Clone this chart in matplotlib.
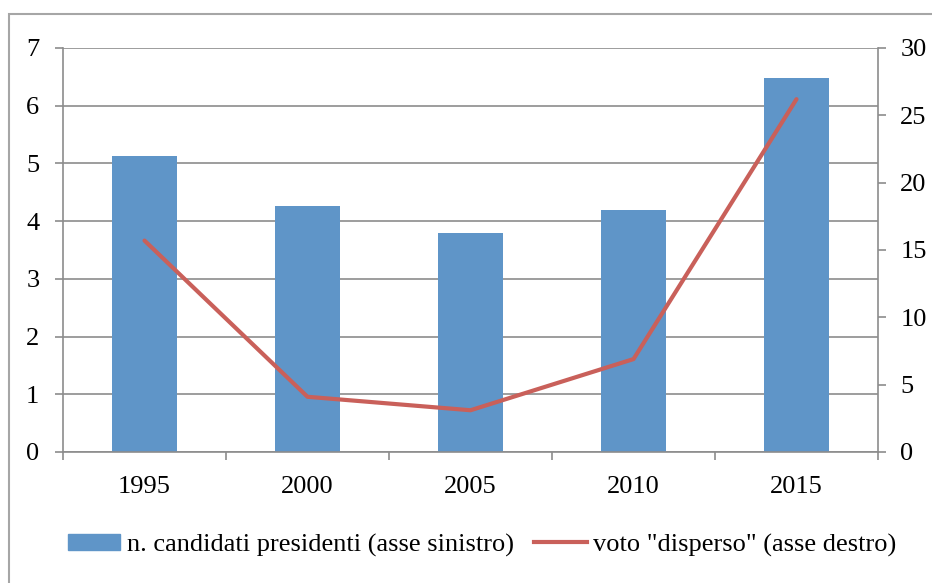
import matplotlib
matplotlib.use("Agg")
import matplotlib.pyplot as plt
from matplotlib.lines import Line2D
from matplotlib.patches import Patch, Rectangle

# dati elezioni presidenziali
anni = ["1995", "2000", "2005", "2010", "2015"]
n_candidati = [5.13, 4.26, 3.80, 4.19, 6.48]
voto_disperso = [15.7, 4.1, 3.1, 6.9, 26.2]

blu = "#5F95C8"
rosso = "#C9605A"
grigio = "#8C8C8C"

plt.rcParams["font.family"] = ["Liberation Serif", "DejaVu Serif"]

fig = plt.figure(figsize=(9.32, 5.83), dpi=100)
ax = fig.add_axes([63 / 932, 131 / 583, 815 / 932, 404 / 583])
ax2 = ax.twinx()

x = list(range(len(anni)))
ax.bar(x, n_candidati, width=0.4, color=blu, zorder=2)
ax2.plot(x, voto_disperso, color=rosso, lw=3, solid_capstyle="round", zorder=3)

ax.set_xlim(-0.5, len(anni) - 0.5)
ax.set_ylim(0, 7)
ax2.set_ylim(0, 30)
ax.set_yticks(range(0, 8))
ax2.set_yticks(range(0, 31, 5))

ax.set_xticks(x)
ax.set_xticklabels(anni)
ax.set_xticks([i - 0.5 for i in range(len(anni) + 1)], minor=True)
ax.tick_params(axis="x", which="major", length=0, pad=17, labelsize=19)
ax.tick_params(axis="x", which="minor", length=6, width=1.2, color=grigio)
ax.tick_params(axis="y", length=6, width=1.2, color=grigio, pad=11, labelsize=19)
ax2.tick_params(axis="y", length=6, width=1.2, color=grigio, pad=10, labelsize=19)

ax.grid(axis="y", color=grigio, lw=1.2, zorder=0)
ax.set_axisbelow(True)
for a in (ax, ax2):
    a.spines["top"].set_visible(False)
    for s in ("left", "right", "bottom"):
        a.spines[s].set_color(grigio)
        a.spines[s].set_linewidth(1.2)
ax2.spines["left"].set_visible(False)
ax2.spines["bottom"].set_visible(False)
ax.spines["right"].set_visible(False)

# bordo esterno del grafico
fig.patches.append(Rectangle((9 / 932, -0.1), 1.2, 1.1 - 14 / 583,
                             transform=fig.transFigure, fill=False,
                             edgecolor="#A6A6A6", lw=1.5))

handles = [Patch(color=blu, label="n. candidati presidenti (asse sinistro)"),
           Line2D([], [], color=rosso, lw=3, label='voto "disperso" (asse destro)')]
fig.legend(handles=handles, loc="center", bbox_to_anchor=(482 / 932, 1 - 545 / 583),
           ncol=2, frameon=False, fontsize=19, handlelength=2.0, handleheight=0.55,
           handletextpad=0.25, columnspacing=0.75)

fig.savefig("out.png", dpi=100)
